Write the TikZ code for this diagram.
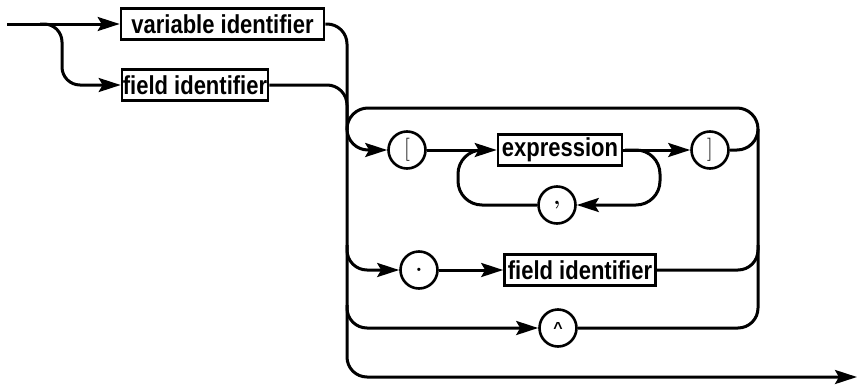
\documentclass[tikz,border=0pt]{standalone}
\usepackage{graphicx}
\usepackage{fontspec}
\setsansfont{Liberation Sans}
\usetikzlibrary{arrows.meta}
\newcommand\tallbx[1]{\scalebox{1}[1.18]{#1}}
\begin{document}
\begin{tikzpicture}[x=1pt,y=-1pt, line width=3pt,
  box/.style={draw, rectangle, font=\sffamily\bfseries\fontsize{22}{24}\selectfont, minimum height=31pt, inner sep=0pt, line width=2.6pt},
  term/.style={draw, circle, minimum size=37pt, inner sep=0pt, line width=2.6pt, font=\fontsize{23}{24}\selectfont},
  arr/.style={-{Stealth[length=22pt,width=14pt,inset=4pt]}},
  rc/.style={rounded corners=20pt}]
\useasboundingbox (0,0) rectangle (860,386);
% nodes
\node[box, minimum width=203pt] (vid) at (222.5,24) {\tallbx{variable identifier}};
\node[box, minimum width=146pt] (fid1) at (195,85) {\tallbx{field identifier}};
\node[term] (lb) at (407,150) {[};
\node[box, minimum width=124pt] (expr) at (560,150) {\tallbx{expression}};
\node[term] (rb) at (710,150) {]};
\node[term] (comma) at (557,205) {\bfseries ,};
\node[term] (dot) at (419,270) {\bfseries .};
\node[box, minimum width=151pt] (fid2) at (580,270) {\tallbx{field identifier}};
\node[term] (caret) at (558,328) {\raisebox{-3pt}{\sffamily\bfseries\fontsize{16}{18}\selectfont\textasciicircum}};
\coordinate (start) at (7,24);
\coordinate (end) at (857,377);
% entry
\draw[arr] (start) -- (vid);
\draw[arr, rounded corners=18pt] (40,24) -- (62,24) -- (62,85) -- (fid1.west);
% main vertical and exit
\draw[arr, rc] (vid.east) -- (347,24) -- (347,377) -- (end);
\draw[rc] (fid1.east) -- (347,85) -- (347,130);
% loop top
\draw[arr, rounded corners=21pt] (rb.east) -- (758,150) -- (758,108) -- (347,108) -- (347,150) -- (lb.west);
% expression list
\draw[arr] (lb) -- (expr);
\draw[arr] (expr) -- (rb);
\draw[arr, rounded corners=24pt] (625,150) -- (660,150) -- (660,205) -- (comma.east);
\draw[rounded corners=24pt] (comma.west) -- (458,205) -- (458,150) -- (488,150);
% field selector
\draw[arr, rc] (347,245) -- (347,270) -- (dot.west);
\draw[arr] (dot) -- (fid2);
\draw[rc] (fid2.east) -- (758,270) -- (758,245);
% pointer
\draw[arr, rc] (347,305) -- (347,328) -- (caret.west);
\draw[rc] (caret.east) -- (758,328) -- (758,129);
\end{tikzpicture}
\end{document}
